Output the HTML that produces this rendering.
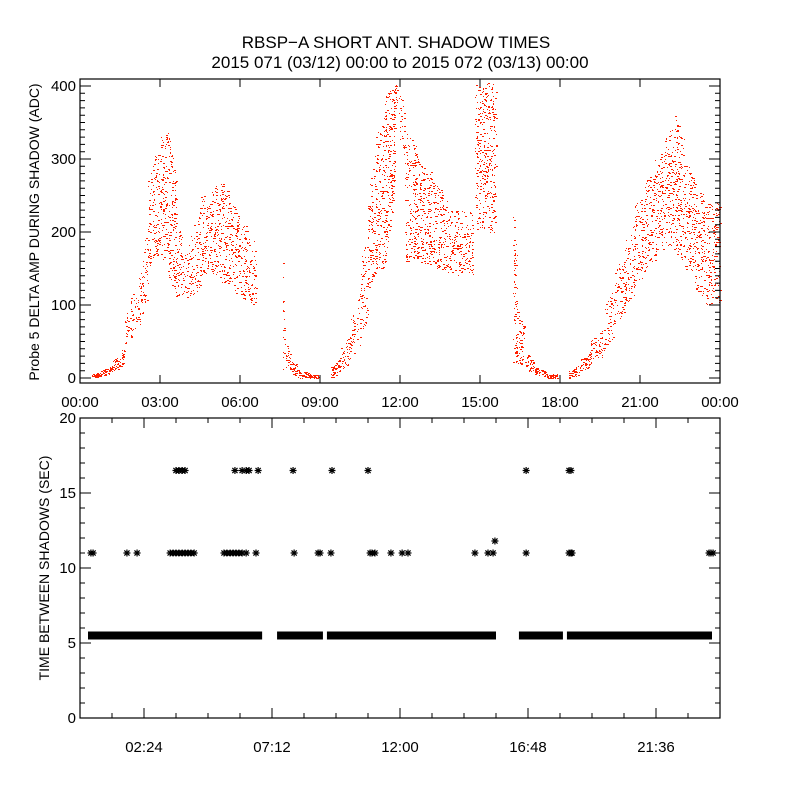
<!DOCTYPE html>
<html><head><meta charset="utf-8"><style>
body{margin:0;background:#fff}
svg text{font-family:"Liberation Sans",sans-serif;fill:#000}
</style></head><body>
<svg id="c" width="800" height="800" viewBox="0 0 800 800" xmlns="http://www.w3.org/2000/svg">
<rect width="800" height="800" fill="#fff"/>
<text x="396" y="48" font-size="17" text-anchor="middle">RBSP−A SHORT ANT. SHADOW TIMES</text>
<text x="400" y="68" font-size="17" text-anchor="middle">2015 071 (03/12) 00:00 to 2015 072 (03/13) 00:00</text>
<g id="topPanel"></g><g id="botPanel"></g>
</svg>
<script>
// ---- top panel data: envelope bins (hours start, hours end, low ADC, high ADC)
const binStart=[0.45,0.75,1.13,1.43,1.69,1.88,2.1,2.33,2.55,2.7,3.0,3.3,3.6,3.83,4.13,4.5,4.88,5.25,5.63,6.0,6.3,7.6,7.65,7.88,8.18,8.63,9.38,9.75,10.13,10.5,10.8,11.06,11.44,11.81,12.2,12.66,13.2,13.75,14.81,16.24,16.4,16.69,17.06,17.48,18.34,18.75,19.13,19.69,20.06,20.44,20.81,21.19,21.56,21.94,22.31,22.69,23.06,23.44];
const binEnd  =[0.75,1.13,1.43,1.65,1.88,2.1,2.33,2.55,2.7,3.0,3.3,3.6,3.83,4.13,4.5,4.88,5.25,5.63,6.0,6.3,6.6,7.65,7.88,8.18,8.63,8.93,9.75,10.13,10.5,10.8,11.06,11.44,11.81,12.2,12.66,13.2,13.75,14.75,15.6,16.4,16.69,17.06,17.48,17.9,18.75,19.13,19.69,20.06,20.44,20.81,21.19,21.56,21.94,22.31,22.69,23.06,23.44,24.0];
const binLo   =[0,3,8,15,40,55,70,80,150,160,170,130,110,110,110,140,140,130,120,110,100,10,15,5,0,0,0,10,30,50,120,150,150,380,160,160,150,140,200,20,20,10,5,0,0,10,20,40,70,100,130,150,170,180,170,150,120,100];
const binHi   =[5,10,20,40,90,110,140,160,270,300,330,340,220,170,200,250,260,270,240,220,190,170,50,25,10,5,15,40,80,150,260,330,390,405,340,300,270,230,405,230,100,35,15,5,10,25,50,100,150,190,240,270,300,330,360,300,260,240];
// ---- bottom panel data
const band55Start=[0.3,7.39,9.26,16.46,18.26];
const band55End=[6.83,9.11,15.6,18.11,23.7];
const pts11=[0.41,0.49,1.76,2.14,3.38,3.49,3.6,3.71,3.83,3.94,4.05,4.16,4.28,5.4,5.51,5.63,5.74,5.85,5.96,6.08,6.23,6.6,8.03,8.93,9.0,9.41,10.88,10.95,11.06,11.66,12.08,12.3,14.81,15.3,15.49,16.73,18.34,18.41,18.45,23.59,23.66,23.74];
const pts165=[3.6,3.71,3.83,3.94,5.81,6.08,6.23,6.34,6.68,7.99,9.45,10.8,16.73,18.34,18.41];
const pts118=[15.56];
const topXTicks=["00:00","03:00","06:00","09:00","12:00","15:00","18:00","21:00","00:00"];
const topYTicks=[0,100,200,300,400];
const botXTicks=["02:24","07:12","12:00","16:48","21:36"];
const botYTicks=[0,5,10,15,20];

const NS="http://www.w3.org/2000/svg";
function mk(parent,tag,attrs){const e=document.createElementNS(NS,tag);for(const k in attrs)e.setAttribute(k,attrs[k]);parent.appendChild(e);return e;}
const L=80,R=720;
const xT=h=>L+h/24*(R-L);
const T0=79,T1=383; const yT=v=>378-v*0.73;
const B0=418,B1=718; const yB=v=>B1-v/20*(B1-B0);
function hsh(n){let x=Math.sin(n*12.9898+78.233)*43758.5453;return x-Math.floor(x);}

const topG=document.getElementById('topPanel'), botG=document.getElementById('botPanel');
// top dots
let d="";let k=0;
for(let b=0;b<binStart.length;b++){
  const nb=(b+1<binStart.length && Math.abs(binStart[b+1]-binEnd[b])<0.01)?b+1:b;
  const x0=xT(binStart[b]),x1=xT(binEnd[b]);
  const w=x1-x0,h=(yT(binLo[b])-yT(binHi[b]));
  const n=Math.round(Math.max(w*4,w*h*0.11));
  for(let i=0;i<n;i++){
    k++;
    const fx=hsh(k), fy=hsh(k+0.5);
    const t=binStart[b]+fx*(binEnd[b]-binStart[b]);
    const f=fx*0.5;
    const lo=binLo[b]*(1-f)+binLo[nb]*f, hi=binHi[b]*(1-f)+binHi[nb]*f;
    const v=lo+fy*(hi-lo);
    const px=Math.round(xT(t)), py=Math.round(yT(v));
    if(py<T0+1||py>T1-1)continue;
    const ww=hsh(k+0.25)<0.4?2:1;
    d+="M"+px+" "+py+"h"+ww+"v1h-"+ww+"z";
  }
}
const dots=mk(topG,'path',{d:d,fill:'#ff2000','shape-rendering':'crispEdges'});



function axes(g,y0,y1,name){
  const r=mk(g,'rect',{x:L,y:y0,width:R-L,height:y1-y0,fill:'none',stroke:'#000','stroke-width':1.2});
  
  
}
axes(topG,T0,T1,'top-plot-frame');
axes(botG,B0,B1,'bottom-plot-frame');
// top ticks
let tk="";
for(let i=0;i<topXTicks.length;i++){const x=xT(i*3);tk+=`M${x} ${T1}v-8M${x} ${T0}v8`;
  const t=mk(topG,'text',{x:x,y:407,'font-size':15,'text-anchor':'middle'});t.textContent=topXTicks[i];
  }
for(let v=0;v<=410;v+=10){const y=yT(v);if(y<T0)continue;const len=v%100===0?11:5;tk+=`M${L} ${y}h${len}M${R} ${y}h${-len}`;}
topYTicks.forEach(v=>{const t=mk(topG,'text',{x:76,y:yT(v)+5,'font-size':15,'text-anchor':'end'});t.textContent=v;
  });
const tp=mk(topG,'path',{d:tk,stroke:'#000','stroke-width':1,fill:'none'});

const yl=mk(topG,'text',{x:0,y:0,'font-size':14,'text-anchor':'middle',transform:'translate(39,232) rotate(-90)'});
yl.textContent="Probe 5 DELTA AMP DURING SHADOW (ADC)";


// bottom ticks: every 1.2 h, major at 2.4 + 4.8k
let bk="";
for(let i=1;i<20;i++){const h=i*1.2;const x=xT(h);const major=(i%4===2);const len=major?10:5;bk+=`M${x} ${B1}v${-len}M${x} ${B0}v${len}`;}
for(let v=1;v<20;v++){const y=yB(v);const len=v%5===0?11:5;bk+=`M${L} ${y}h${len}M${R} ${y}h${-len}`;}
botXTicks.forEach((s,i)=>{const t=mk(botG,'text',{x:xT(2.4+i*4.8),y:752,'font-size':15,'text-anchor':'middle'});t.textContent=s;
  });
botYTicks.forEach(v=>{const t=mk(botG,'text',{x:76,y:yB(v)+5,'font-size':15,'text-anchor':'end'});t.textContent=v;
  });
const bp=mk(botG,'path',{d:bk,stroke:'#000','stroke-width':1,fill:'none'});

const yl2=mk(botG,'text',{x:0,y:0,'font-size':14,'text-anchor':'middle',transform:'translate(49,568) rotate(-90)'});
yl2.textContent="TIME BETWEEN SHADOWS (SEC)";


// asterisks
function star(x,y){const s=3.5,q=2.6;return `M${x-s} ${y}h${2*s}M${x} ${y-s}v${2*s}M${x-q} ${y-q}l${2*q} ${2*q}M${x-q} ${y+q}l${2*q} ${-2*q}`;}
let sd="";
pts11.forEach(h=>sd+=star(xT(h),yB(11)));
pts165.forEach(h=>sd+=star(xT(h),yB(16.5)));
pts118.forEach(h=>sd+=star(xT(h),yB(11.8)));
const sp=mk(botG,'path',{d:sd,stroke:'#000','stroke-width':1.2,fill:'none'});

let bd="";
for(let i=0;i<band55Start.length;i++){
  const x0=xT(band55Start[i]),x1=xT(band55End[i]);
  bd+=`M${x0} ${yB(5.5)-4}H${x1}V${yB(5.5)+4}H${x0}Z`;
}
const bb=mk(botG,'path',{d:bd,fill:'#000'});

</script>
</body></html>
